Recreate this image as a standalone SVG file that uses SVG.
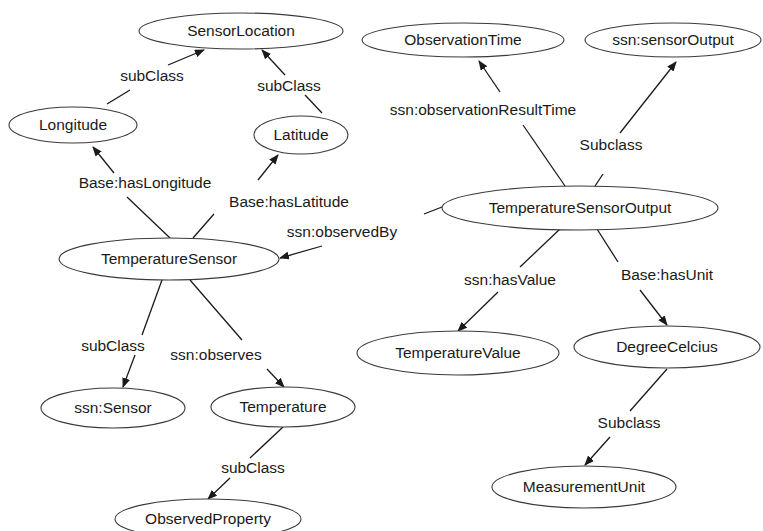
<svg xmlns="http://www.w3.org/2000/svg" width="763" height="531" viewBox="0 0 763 531">
  <style>
    .node ellipse { fill: #ffffff; stroke: #3a3a3a; stroke-width: 1.1; }
    text { font-family: "Liberation Sans", Arial, sans-serif; font-size: 15.5px; fill: #1a1a1a; text-anchor: middle; }
    .edge line { stroke: #1a1a1a; stroke-width: 1.3; }
  </style>
  <defs>
    <marker id="arrow" markerWidth="10" markerHeight="8" refX="9" refY="4" orient="auto" markerUnits="userSpaceOnUse">
      <path d="M0,0 L10,4 L0,8 Z" fill="#1a1a1a"/>
    </marker>
  </defs>
  <rect width="763" height="531" fill="#ffffff"/>

  <!-- connectors: each edge is a tail segment, a label, and a head segment with an arrow -->
  <g id="connectors">
    <g class="edge" id="e-lon-loc">
      <line x1="107" y1="104" x2="130" y2="90"/>
      <line x1="168" y1="65" x2="204" y2="50" marker-end="url(#arrow)"/>
      <text x="152" y="81">subClass</text>
    </g>
    <g class="edge" id="e-lat-loc">
      <line x1="322" y1="113" x2="305" y2="95"/>
      <line x1="285" y1="75" x2="262" y2="50" marker-end="url(#arrow)"/>
      <text x="289" y="91">subClass</text>
    </g>
    <g class="edge" id="e-ts-lon">
      <line x1="170" y1="238" x2="127" y2="197"/>
      <line x1="114" y1="173" x2="93" y2="147" marker-end="url(#arrow)"/>
      <text x="145" y="188">Base:hasLongitude</text>
    </g>
    <g class="edge" id="e-ts-lat">
      <line x1="193" y1="238" x2="214" y2="214"/>
      <line x1="258" y1="180" x2="278" y2="155" marker-end="url(#arrow)"/>
      <text x="289" y="207">Base:hasLatitude</text>
    </g>
    <g class="edge" id="e-tso-ts">
      <line x1="442" y1="207" x2="424" y2="214"/>
      <line x1="322" y1="246" x2="280" y2="258" marker-end="url(#arrow)"/>
      <text x="342" y="237">ssn:observedBy</text>
    </g>
    <g class="edge" id="e-tso-time">
      <line x1="565" y1="186" x2="523" y2="125"/>
      <line x1="500" y1="92" x2="479" y2="61" marker-end="url(#arrow)"/>
      <text x="483" y="115">ssn:observationResultTime</text>
    </g>
    <g class="edge" id="e-tso-out">
      <line x1="595" y1="186" x2="603" y2="174"/>
      <line x1="620" y1="133" x2="676" y2="62" marker-end="url(#arrow)"/>
      <text x="611" y="150">Subclass</text>
    </g>
    <g class="edge" id="e-tso-val">
      <line x1="560" y1="229" x2="520" y2="267"/>
      <line x1="498" y1="292" x2="458" y2="331" marker-end="url(#arrow)"/>
      <text x="510" y="285">ssn:hasValue</text>
    </g>
    <g class="edge" id="e-tso-deg">
      <line x1="597" y1="229" x2="618" y2="262"/>
      <line x1="640" y1="290" x2="667" y2="325" marker-end="url(#arrow)"/>
      <text x="667" y="280">Base:hasUnit</text>
    </g>
    <g class="edge" id="e-deg-unit">
      <line x1="667" y1="369" x2="630" y2="411"/>
      <line x1="610" y1="437" x2="585" y2="465" marker-end="url(#arrow)"/>
      <text x="629" y="428">Subclass</text>
    </g>
    <g class="edge" id="e-ts-sensor">
      <line x1="162" y1="280" x2="142" y2="335"/>
      <line x1="135" y1="355" x2="123" y2="387" marker-end="url(#arrow)"/>
      <text x="113" y="351">subClass</text>
    </g>
    <g class="edge" id="e-ts-temp">
      <line x1="190" y1="280" x2="242" y2="340"/>
      <line x1="267" y1="369" x2="284" y2="387" marker-end="url(#arrow)"/>
      <text x="216" y="360">ssn:observes</text>
    </g>
    <g class="edge" id="e-temp-obs">
      <line x1="283" y1="427" x2="250" y2="458"/>
      <line x1="230" y1="478" x2="208" y2="499" marker-end="url(#arrow)"/>
      <text x="253" y="473">subClass</text>
    </g>
  </g>

  <!-- nodes -->
  <g class="node" id="n-sensorlocation">
    <ellipse cx="241" cy="31" rx="102" ry="18"/>
    <text x="241" y="36">SensorLocation</text>
  </g>
  <g class="node" id="n-longitude">
    <ellipse cx="73" cy="125" rx="64" ry="18"/>
    <text x="73" y="130">Longitude</text>
  </g>
  <g class="node" id="n-latitude">
    <ellipse cx="301" cy="135" rx="47" ry="19"/>
    <text x="301" y="140">Latitude</text>
  </g>
  <g class="node" id="n-temperaturesensor">
    <ellipse cx="169" cy="259" rx="110" ry="21"/>
    <text x="169" y="264">TemperatureSensor</text>
  </g>
  <g class="node" id="n-observationtime">
    <ellipse cx="463" cy="40" rx="101" ry="17"/>
    <text x="463" y="45">ObservationTime</text>
  </g>
  <g class="node" id="n-sensoroutput">
    <ellipse cx="673" cy="40" rx="88" ry="17"/>
    <text x="673" y="45">ssn:sensorOutput</text>
  </g>
  <g class="node" id="n-temperaturesensoroutput">
    <ellipse cx="580" cy="208" rx="138" ry="22"/>
    <text x="580" y="213">TemperatureSensorOutput</text>
  </g>
  <g class="node" id="n-ssnsensor">
    <ellipse cx="113" cy="408" rx="72" ry="20"/>
    <text x="113" y="413">ssn:Sensor</text>
  </g>
  <g class="node" id="n-temperature">
    <ellipse cx="283" cy="407" rx="72" ry="20"/>
    <text x="283" y="412">Temperature</text>
  </g>
  <g class="node" id="n-observedproperty">
    <ellipse cx="208" cy="519" rx="93" ry="20"/>
    <text x="208" y="524">ObservedProperty</text>
  </g>
  <g class="node" id="n-temperaturevalue">
    <ellipse cx="458" cy="353" rx="101" ry="22"/>
    <text x="458" y="358">TemperatureValue</text>
  </g>
  <g class="node" id="n-degreecelcius">
    <ellipse cx="667" cy="347" rx="93" ry="21"/>
    <text x="667" y="352">DegreeCelcius</text>
  </g>
  <g class="node" id="n-measurementunit">
    <ellipse cx="584" cy="487" rx="92" ry="21"/>
    <text x="584" y="492">MeasurementUnit</text>
  </g>
</svg>
